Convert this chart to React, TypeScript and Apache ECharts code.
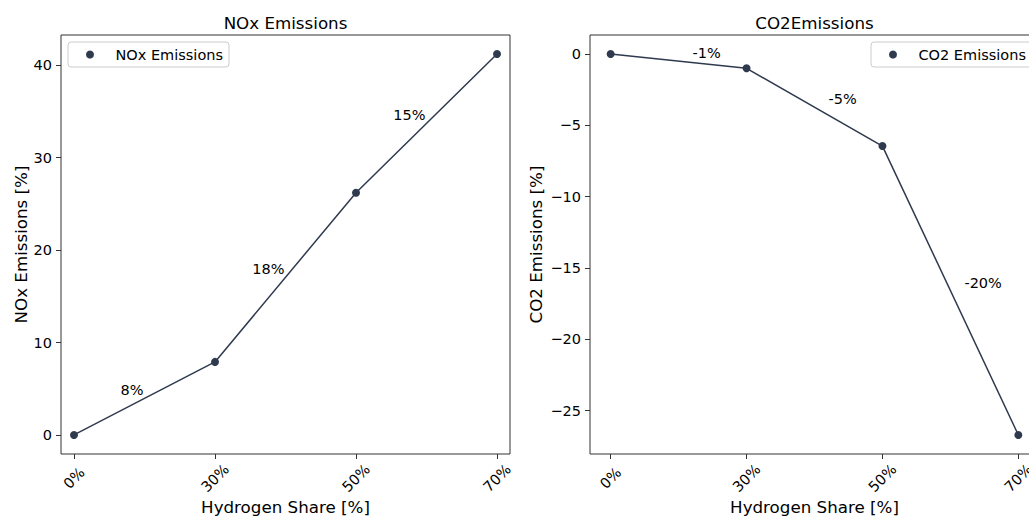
import React, { useEffect, useRef } from 'react';
import * as echarts from 'echarts';

const xLabels = ['0%', '30%', '50%', '70%'];
const noxValues = [0, 7.9, 26.2, 41.2];
const co2Values = [0, -1.0, -6.45, -26.7];
const noxChangeLabels = ['8%', '18%', '15%'];
const co2ChangeLabels = ['-1%', '-5%', '-20%'];
const noxTicks = [0, 10, 20, 30, 40];
const co2Ticks = [-25, -20, -15, -10, -5, 0];
const xTicks = [0, 1, 2, 3];

const FONT = "'DejaVu Sans', sans-serif";
const LINE = '#2f3a4f';
const TEXT = '#000';
const FRAME = '#333';
const SMALL = 14.5;
const LARGE = 16.7;

function panel(
  idx: number,
  gridLeft: number,
  xPad: number,
  values: number[],
  ticks: number[],
  changeLabels: string[],
  seriesName: string,
  yName: string,
  yNameGap: number,
  labelAlign: 'left' | 'right',
  labelOffset: number[]
) {
  const vmin = Math.min(...values);
  const vmax = Math.max(...values);
  const pad = (vmax - vmin) * 0.05;
  const grid = {
    left: gridLeft,
    top: 35,
    width: 449,
    height: 419,
    show: true,
    borderColor: FRAME,
    borderWidth: 1,
    backgroundColor: 'transparent',
    containLabel: false,
    outerBoundsMode: 'none',
  };
  const xAxis = {
    type: 'value',
    gridIndex: idx,
    position: 'bottom',
    min: -xPad,
    max: xLabels.length - 1 + xPad,
    name: 'Hydrogen Share [%]',
    nameLocation: 'middle',
    nameGap: 52.5,
    nameMoveOverlap: false,
    nameTextStyle: { fontSize: LARGE, color: TEXT, fontFamily: FONT, verticalAlign: 'middle' },
    axisLine: { show: false, onZero: false },
    splitLine: { show: false },
    axisTick: { show: true, length: 5, customValues: xTicks, lineStyle: { color: FRAME, width: 1 } },
    axisLabel: {
      customValues: xTicks,
      formatter: (v: number) => xLabels[Math.round(v)] ?? '',
      rotate: 45,
      align: 'center',
      verticalAlign: 'middle',
      margin: 24,
      fontSize: SMALL,
      color: TEXT,
      fontFamily: FONT,
    },
  };
  const yAxis = {
    type: 'value',
    gridIndex: idx,
    position: 'left',
    min: vmin - pad,
    max: vmax + pad,
    name: yName,
    nameLocation: 'middle',
    nameGap: yNameGap,
    nameMoveOverlap: false,
    nameTextStyle: { fontSize: LARGE, color: TEXT, fontFamily: FONT, verticalAlign: 'middle' },
    axisLine: { show: false, onZero: false },
    splitLine: { show: false },
    axisTick: { show: true, length: 5, customValues: ticks, lineStyle: { color: FRAME, width: 1 } },
    axisLabel: {
      customValues: ticks,
      formatter: (v: number) => String(v).replace('-', '\u2212'),
      margin: 9,
      fontSize: SMALL,
      color: TEXT,
      fontFamily: FONT,
    },
  };
  const series = [
    {
      type: 'line',
      name: seriesName,
      xAxisIndex: idx,
      yAxisIndex: idx,
      data: values.map((v, i) => [i, v]),
      symbol: 'circle',
      symbolSize: 8,
      showAllSymbol: true,
      itemStyle: { color: LINE },
      lineStyle: { color: LINE, width: 1.5 },
      clip: false,
      z: 3,
    },
    {
      type: 'scatter',
      name: seriesName + ' change',
      xAxisIndex: idx,
      yAxisIndex: idx,
      silent: true,
      symbolSize: 0,
      itemStyle: { color: LINE },
      data: changeLabels.map((_, i) => [i + 0.5, (values[i] + values[i + 1]) / 2]),
      label: {
        show: true,
        position: 'inside',
        align: labelAlign,
        verticalAlign: 'middle',
        offset: labelOffset,
        formatter: (p: any) => changeLabels[p.dataIndex],
        fontSize: SMALL,
        color: TEXT,
        opacity: 1,
        textBorderWidth: 0,
        fontFamily: FONT,
      },
      z: 4,
    },
  ];
  return { grid, xAxis, yAxis, series };
}

export default function App() {
  const ref = useRef<HTMLDivElement>(null);
  useEffect(() => {
    if (!ref.current) return;
    const chart = echarts.init(ref.current, undefined, { renderer: 'svg' });
    const p1 = panel(0, 61, 0.092, noxValues, noxTicks, noxChangeLabels, 'NOx Emissions', 'NOx Emissions [%]', 40, 'right', [-1, -8]);
    const p2 = panel(1, 590, 0.152, co2Values, co2Ticks, co2ChangeLabels, 'CO2 Emissions', 'CO2 Emissions [%]', 54, 'left', [14, -8]);
    const legendBase = {
      icon: 'circle',
      itemWidth: 41,
      itemHeight: 8,
      padding: [5, 6, 5, 18],
      top: 42,
      backgroundColor: 'rgba(255,255,255,0.8)',
      borderColor: '#cccccc',
      borderWidth: 1,
      borderRadius: 3,
      selectedMode: false,
      textStyle: { fontSize: SMALL, color: TEXT, fontFamily: FONT },
    };
    chart.setOption({
      animation: false,
      backgroundColor: '#ffffff',
      title: [
        { text: 'NOx Emissions', left: 285.5, top: 14, textAlign: 'center', padding: 0, textStyle: { fontSize: LARGE, fontWeight: 'normal', color: TEXT, fontFamily: FONT } },
        { text: 'CO2Emissions', left: 814.5, top: 14, textAlign: 'center', padding: 0, textStyle: { fontSize: LARGE, fontWeight: 'normal', color: TEXT, fontFamily: FONT } },
      ],
      legend: [
        { ...legendBase, left: 68, data: ['NOx Emissions'] },
        { ...legendBase, left: 871, data: ['CO2 Emissions'] },
      ],
      grid: [p1.grid, p2.grid],
      xAxis: [p1.xAxis, p2.xAxis],
      yAxis: [p1.yAxis, p2.yAxis],
      series: [...p1.series, ...p2.series],
    });
    return () => chart.dispose();
  }, []);
  return <div ref={ref} style={{ position: 'fixed', left: 0, top: 0, width: 1029, height: 517 }} />;
}
